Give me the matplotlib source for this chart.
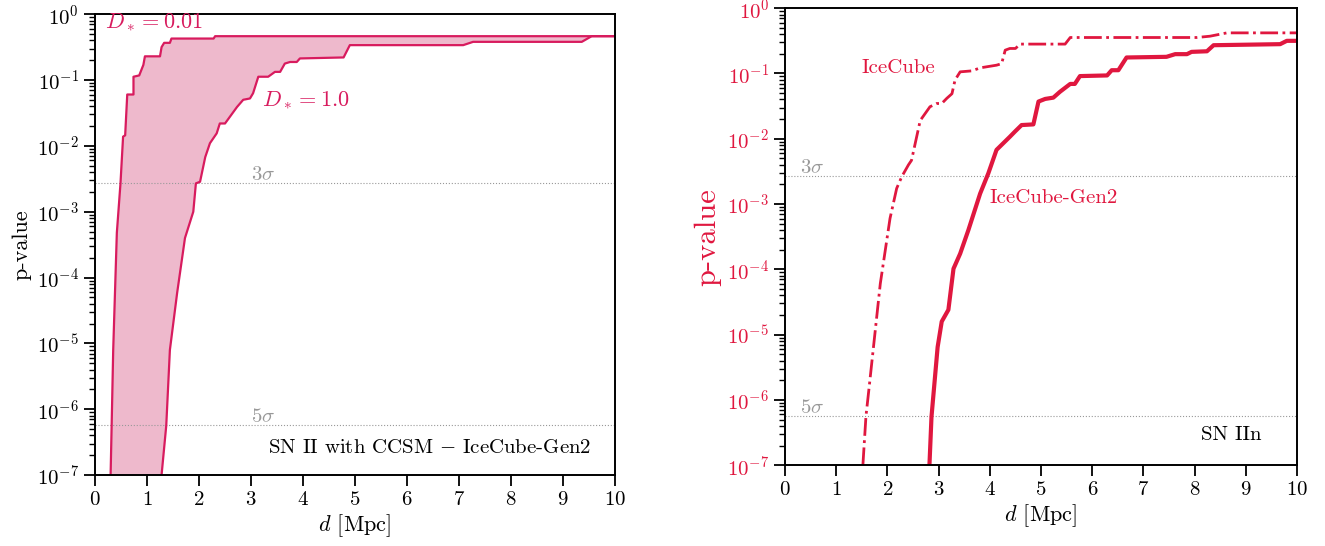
import numpy as np
import matplotlib
matplotlib.use("Agg")
import matplotlib.pyplot as plt
from matplotlib.ticker import LogLocator, NullFormatter, MultipleLocator

plt.rcParams['font.family'] = ['cmr10', 'DejaVu Serif']
plt.rcParams['mathtext.fontset'] = 'cm'
plt.rcParams['axes.formatter.use_mathtext'] = True
plt.rcParams['axes.unicode_minus'] = False

# --- data: distance [Mpc] and log10(p-value) ---
# left panel, SN II with CCSM (IceCube-Gen2), D_* = 0.01 (upper edge)
d_ccsm_001 = [0.30, 0.32, 0.35, 0.42, 0.49, 0.54, 0.58, 0.62, 0.74, 0.74, 0.85, 0.93,
              0.96, 1.25, 1.28, 1.33, 1.44, 1.47, 2.28, 2.31, 10.0]
logp_ccsm_001 = [-7.0, -6.25, -5.1, -3.32, -2.57, -1.86, -1.84, -1.22, -1.22, -0.95, -0.93, -0.77,
                 -0.64, -0.64, -0.50, -0.435, -0.435, -0.37, -0.37, -0.334, -0.334]
# D_* = 1.0 (lower edge)
d_ccsm_1 = [1.28, 1.37, 1.44, 1.58, 1.73, 1.89, 1.94, 2.02, 2.12, 2.21, 2.34, 2.40, 2.50,
            2.73, 2.85, 2.98, 3.04, 3.14, 3.33, 3.46, 3.56, 3.65, 3.75, 3.88, 3.94, 4.78,
            4.90, 7.08, 7.27, 9.36, 9.55, 10.0]
logp_ccsm_1 = [-7.0, -6.25, -5.10, -4.23, -3.40, -3.0, -2.57, -2.545, -2.17, -1.96, -1.81, -1.66, -1.66,
               -1.41, -1.30, -1.28, -1.20, -0.95, -0.95, -0.876, -0.876, -0.75, -0.726, -0.726, -0.672, -0.657,
               -0.47, -0.47, -0.42, -0.42, -0.334, -0.334]

# right panel, SN IIn
d_ic = [1.52, 1.58, 1.65, 1.86, 2.05, 2.18, 2.28, 2.41, 2.47, 2.64, 2.83, 2.96, 3.06, 3.16,
        3.26, 3.32, 3.42, 3.65, 3.81, 4.13, 4.23, 4.30, 4.39, 4.50, 4.59, 5.47, 5.57, 8.04,
        8.30, 8.63, 10.0]
logp_ic = [-7.0, -6.25, -5.75, -4.22, -3.22, -2.76, -2.58, -2.40, -2.33, -1.72, -1.51, -1.46, -1.46, -1.38,
           -1.31, -1.10, -0.975, -0.96, -0.914, -0.873, -0.85, -0.643, -0.617, -0.617, -0.55, -0.55, -0.449, -0.449,
           -0.429, -0.378, -0.378]
d_gen2 = [2.82, 2.86, 2.98, 3.06, 3.19, 3.29, 3.42, 3.58, 3.81, 3.97, 4.13, 4.26, 4.39, 4.49,
          4.62, 4.85, 4.95, 5.08, 5.24, 5.37, 5.57, 5.66, 5.76, 6.29, 6.38, 6.51, 6.67, 7.45,
          7.62, 7.85, 7.94, 8.24, 8.37, 9.67, 9.80, 10.0]
logp_gen2 = [-7.0, -6.26, -5.19, -4.80, -4.62, -3.99, -3.76, -3.40, -2.84, -2.53, -2.17, -2.07, -1.97, -1.89,
             -1.79, -1.78, -1.43, -1.39, -1.37, -1.28, -1.16, -1.16, -1.04, -1.03, -0.95, -0.95, -0.755, -0.745,
             -0.704, -0.704, -0.669, -0.66, -0.567, -0.551, -0.50, -0.50]

p_3sigma = 2.7e-3
p_5sigma = 5.7e-7

pink_line = '#D81B5E'
pink_fill = '#EEB9CC'
crimson = '#E0173F'
grey = '#999999'


def style_axes(ax):
    ax.set_yscale('log')
    ax.set_xlim(0, 10)
    ax.set_ylim(1e-7, 1)
    ax.xaxis.set_major_locator(MultipleLocator(1))
    ax.yaxis.set_major_locator(LogLocator(base=10, numticks=20))
    ax.yaxis.set_minor_locator(LogLocator(base=10, subs=np.arange(2, 10), numticks=20))
    ax.yaxis.set_minor_formatter(NullFormatter())
    ax.tick_params(which='major', direction='out', length=8, width=1.3, labelsize=15)
    ax.tick_params(which='minor', direction='out', length=4.5, width=1.0)
    for s in ax.spines.values():
        s.set_linewidth(1.4)
    ax.set_xlabel(r'$d$ [Mpc]', fontsize=16, labelpad=2)
    ax.axhline(p_3sigma, color=grey, lw=0.8, ls=':')
    ax.axhline(p_5sigma, color=grey, lw=0.8, ls=':')


fig = plt.figure(figsize=(13.25, 5.46), dpi=100)
ax1 = fig.add_axes([0.0717, 0.130, 0.3925, 0.844])
ax2 = fig.add_axes([0.5925, 0.148, 0.3864, 0.837])

# left panel
style_axes(ax1)
p_up = 10.0 ** np.array(logp_ccsm_001)
p_lo = 10.0 ** np.array(logp_ccsm_1)
ax1.fill(np.concatenate([d_ccsm_001, d_ccsm_1[::-1]]),
         np.concatenate([p_up, p_lo[::-1]]), color=pink_fill, lw=0)
ax1.plot(d_ccsm_001, p_up, color=pink_line, lw=1.6)
ax1.plot(d_ccsm_1, p_lo, color=pink_line, lw=1.6)
ax1.text(0.2, 0.75, r'$D_* = 0.01$', color=pink_line, fontsize=16, va='center')
ax1.text(3.22, 0.05, r'$D_* = 1.0$', color=pink_line, fontsize=16, va='center')
ax1.text(3.0, p_3sigma * 0.97, r'$3\sigma$', color=grey, fontsize=15, va='bottom')
ax1.text(3.0, p_5sigma * 0.97, r'$5\sigma$', color=grey, fontsize=15, va='bottom')
ax1.text(9.55, 2.55e-7, r'SN II with CCSM $-$ IceCube-Gen2', fontsize=15, ha='right', va='center')
ax1.set_ylabel('p-value', fontsize=16, labelpad=4)

# right panel
style_axes(ax2)
ax2.plot(d_ic, 10.0 ** np.array(logp_ic), color=crimson, lw=2.0, ls='-.')
ax2.plot(d_gen2, 10.0 ** np.array(logp_gen2), color=crimson, lw=3.0)
ax2.text(1.5, 0.12, 'IceCube', color=crimson, fontsize=15, va='center')
ax2.text(4.0, 1.25e-3, 'IceCube-Gen2', color=crimson, fontsize=15, va='center')
ax2.text(0.3, p_3sigma * 0.97, r'$3\sigma$', color=grey, fontsize=15, va='bottom')
ax2.text(0.3, p_5sigma * 0.97, r'$5\sigma$', color=grey, fontsize=15, va='bottom')
ax2.text(9.3, 2.9e-7, 'SN IIn', fontsize=15, ha='right', va='center')
ax2.set_ylabel('p-value', fontsize=22, color=crimson, labelpad=4)
ax2.tick_params(axis='y', labelcolor=crimson)

fig.savefig('out.png', dpi=100)
